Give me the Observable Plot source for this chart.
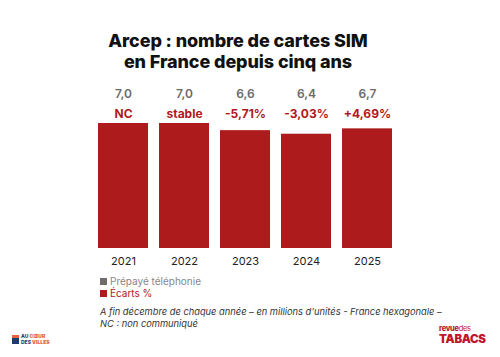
<!DOCTYPE html>
<html>
<head>
<meta charset="utf-8">
<script src="https://cdn.jsdelivr.net/npm/d3@7"></script>
<script src="https://cdn.jsdelivr.net/npm/@observablehq/plot@0.6"></script>
<style>
  html, body { margin: 0; padding: 0; background: #fff; }
  body { width: 500px; height: 357px; position: relative; overflow: hidden; font-family: Inter, "Open Sans", sans-serif; }
  #title { position: absolute; left: 0; width: 476px; top: 30px; text-align: center; font-family: Inter, sans-serif; font-weight: 800; font-size: 18px; line-height: 21px; color: #111; letter-spacing: -0.1px; }
  #chart { position: absolute; left: 0; top: 78px; }
  #legend { position: absolute; left: 100px; top: 276px; font-size: 10px; line-height: 11.5px; }
  #legend div { display: flex; align-items: center; height: 11.5px; }
  #legend span.sw { display: inline-block; width: 7px; height: 7px; margin-right: 3px; }
  #caption { position: absolute; left: 100px; top: 306px; font-size: 9.3px; line-height: 12px; font-style: italic; color: #333; }
  #logoL { position: absolute; left: 12px; top: 333px; display: flex; align-items: center; }
  #logoL .ic { width: 7px; height: 9px; background: linear-gradient(#e8633a 0 35%, #1f3a6e 35% 100%); margin-right: 2px; }
  #logoL .tx { font-size: 5px; line-height: 6px; font-weight: 800; color: #1f3a6e; }
  #logoL .tx b { color: #e8633a; }
  #logoR { position: absolute; left: 439px; top: 324px; color: #c0152a; }
  #logoR .r1 { font-size: 7.5px; line-height: 9px; font-weight: 800; letter-spacing: -0.3px; }
  #logoR .r1 span { font-weight: 400; }
  #logoR .r2 { font-size: 11.5px; line-height: 12px; font-weight: 900; letter-spacing: -0.3px; }
</style>
</head>
<body>
<div id="title">Arcep : nombre de cartes SIM<br>en France depuis cinq ans</div>
<div id="chart"></div>
<div id="legend"></div>
<div id="caption">A fin décembre de chaque année – en millions d'unités - France hexagonale –<br>NC : non communiqué</div>
<div id="logoL"><div class="ic"></div><div class="tx">AU <b>CŒUR</b><br>DES <b>VILLES</b></div></div>
<div id="logoR"><div class="r1">revue<span>des</span></div><div class="r2">TABACS</div></div>
<script>
const years = ["2021", "2022", "2023", "2024", "2025"];
const values = [7.0, 7.0, 6.6, 6.4, 6.7];
const changes = ["NC", "stable", "-5,71%", "-3,03%", "+4,69%"];
const legendLabels = ["Prépayé téléphonie", "Écarts %"];
const legendColors = ["#716b6b", "#ae1b1c"];

const red = "#ae1b1c";
const data = years.map((y, i) => ({year: y, value: values[i], change: changes[i]}));
const fmt = v => v.toFixed(1).replace(".", ",");

const chart = Plot.plot({
  width: 500,
  height: 195,
  marginLeft: 87,
  marginRight: 96,
  marginTop: 45,
  marginBottom: 25,
  x: {domain: years, paddingInner: 0.18, paddingOuter: 0.18, label: null},
  y: {domain: [0, 7], axis: null},
  style: {fontFamily: "Inter, sans-serif", background: "transparent"},
  marks: [
    Plot.barY(data, {x: "year", y: "value", fill: red}),
    Plot.axisX({tickSize: 0, tickPadding: 9, fontSize: 11, color: "#222", label: null}),
    Plot.text(data, {x: "year", text: d => fmt(d.value), frameAnchor: "top", lineAnchor: "middle", dy: -29, fill: "#6b6b6b", fontSize: 12, fontWeight: 600}),
    Plot.text(data, {x: "year", text: "change", frameAnchor: "top", lineAnchor: "middle", dy: -9.5, fill: "#b3171d", fontSize: 12, fontWeight: 700})
  ]
});
document.getElementById("chart").appendChild(chart);

const leg = document.getElementById("legend");
legendLabels.forEach((l, i) => {
  const row = document.createElement("div");
  const sw = document.createElement("span");
  sw.className = "sw";
  sw.style.background = legendColors[i];
  const t = document.createElement("span");
  t.textContent = l;
  t.style.color = i === 0 ? "#8a8585" : "#b3171d";
  row.appendChild(sw);
  row.appendChild(t);
  leg.appendChild(row);
});
</script>
</body>
</html>
